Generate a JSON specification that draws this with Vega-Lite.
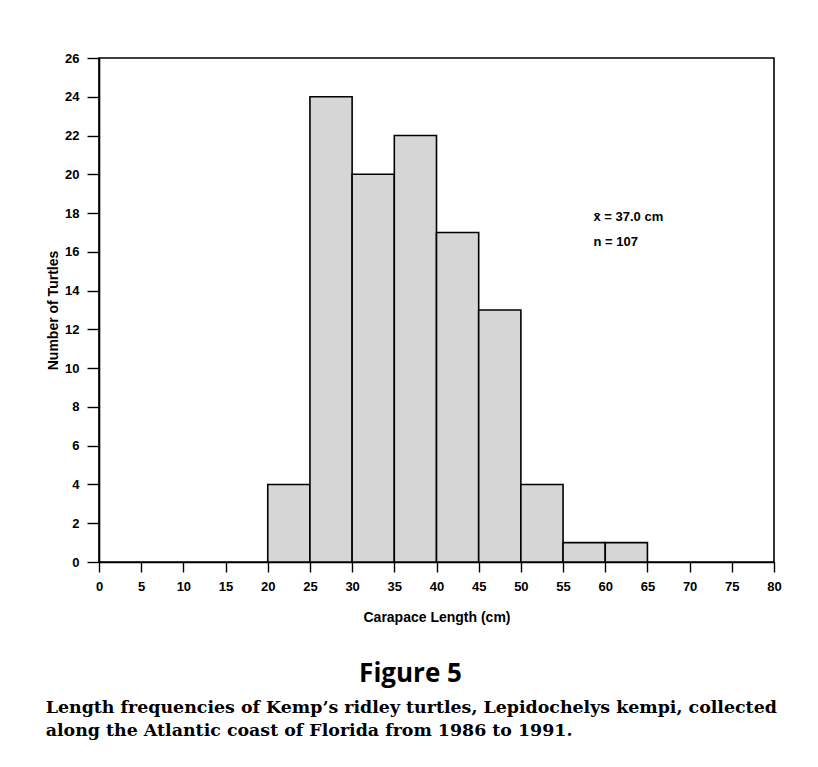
{
  "$schema": "https://vega.github.io/schema/vega-lite/v6.json",
  "background": "white",
  "padding": {"left": 45, "top": 51, "right": 5, "bottom": 5},
  "title": {
    "text": ["Length frequencies of Kemp’s ridley turtles, Lepidochelys kempi, collected", "along the Atlantic coast of Florida from 1986 to 1991."],
    "orient": "bottom",
    "anchor": "start",
    "frame": "bounds",
    "font": "DejaVu Serif",
    "fontSize": 17.4,
    "fontWeight": "bold",
    "color": "black",
    "lineHeight": 23,
    "offset": 11
  },
  "vconcat": [
    {
      "width": 675,
      "height": 504,
      "title": {
        "text": "Figure 5",
        "orient": "bottom",
        "anchor": "middle",
        "dx": -26,
        "font": "Open Sans",
        "fontSize": 26,
        "fontWeight": "bold",
        "color": "black",
        "offset": 37
      },
      "layer": [
        {
          "data": {
            "values": [
              {"start": 20, "end": 25, "count": 4},
              {"start": 25, "end": 30, "count": 24},
              {"start": 30, "end": 35, "count": 20},
              {"start": 35, "end": 40, "count": 22},
              {"start": 40, "end": 45, "count": 17},
              {"start": 45, "end": 50, "count": 13},
              {"start": 50, "end": 55, "count": 4},
              {"start": 55, "end": 60, "count": 1},
              {"start": 60, "end": 65, "count": 1}
            ]
          },
          "mark": {"type": "bar", "fill": "#d6d6d6", "stroke": "black", "strokeWidth": 1.6},
          "encoding": {
            "x": {
              "field": "start", "type": "quantitative",
              "scale": {"domain": [0, 80], "nice": false, "zero": false},
              "axis": {
                "title": "Carapace Length (cm)",
                "values": [0, 5, 10, 15, 20, 25, 30, 35, 40, 45, 50, 55, 60, 65, 70, 75, 80],
                "tickSize": 10,
                "labelPadding": 8,
                "titlePadding": 17,
                "labelFlush": false,
                "labelOverlap": false
              }
            },
            "x2": {"field": "end"},
            "y": {
              "field": "count", "type": "quantitative",
              "scale": {"domain": [0, 26], "nice": false},
              "axis": {
                "title": "Number of Turtles",
                "values": [0, 2, 4, 6, 8, 10, 12, 14, 16, 18, 20, 22, 24, 26],
                "tickSize": 12,
                "labelPadding": 8,
                "titlePadding": 4,
                "labelFlush": false,
                "labelOverlap": false
              }
            },
            "y2": {"datum": 0}
          }
        },
        {
          "data": {
            "values": [
              {"lx": 58.6, "ly": 17.8, "label": "x̄ = 37.0 cm"},
              {"lx": 58.6, "ly": 16.5, "label": "n = 107"}
            ]
          },
          "mark": {"type": "text", "align": "left", "baseline": "middle", "font": "Liberation Sans", "fontWeight": "bold", "fontSize": 13, "color": "black"},
          "encoding": {
            "x": {
              "field": "lx", "type": "quantitative",
              "axis": {
                "title": "Carapace Length (cm)",
                "values": [0, 5, 10, 15, 20, 25, 30, 35, 40, 45, 50, 55, 60, 65, 70, 75, 80],
                "tickSize": 10,
                "labelPadding": 8,
                "titlePadding": 17,
                "labelFlush": false,
                "labelOverlap": false
              }
            },
            "y": {
              "field": "ly", "type": "quantitative",
              "axis": {
                "title": "Number of Turtles",
                "values": [0, 2, 4, 6, 8, 10, 12, 14, 16, 18, 20, 22, 24, 26],
                "tickSize": 12,
                "labelPadding": 8,
                "titlePadding": 4,
                "labelFlush": false,
                "labelOverlap": false
              }
            },
            "text": {"field": "label"}
          }
        }
      ]
    }
  ],
  "config": {
    "view": {"stroke": "black", "strokeWidth": 1.6},
    "axis": {
      "grid": false,
      "labelOverlap": false,
      "labelFlush": false,
      "domainColor": "black",
      "domainWidth": 1.6,
      "tickColor": "black",
      "tickWidth": 1.4,
      "labelFont": "Liberation Sans",
      "labelFontWeight": "bold",
      "labelFontSize": 13,
      "labelColor": "black",
      "titleFont": "Liberation Sans",
      "titleFontWeight": "bold",
      "titleFontSize": 14,
      "titleColor": "black"
    }
  }
}
